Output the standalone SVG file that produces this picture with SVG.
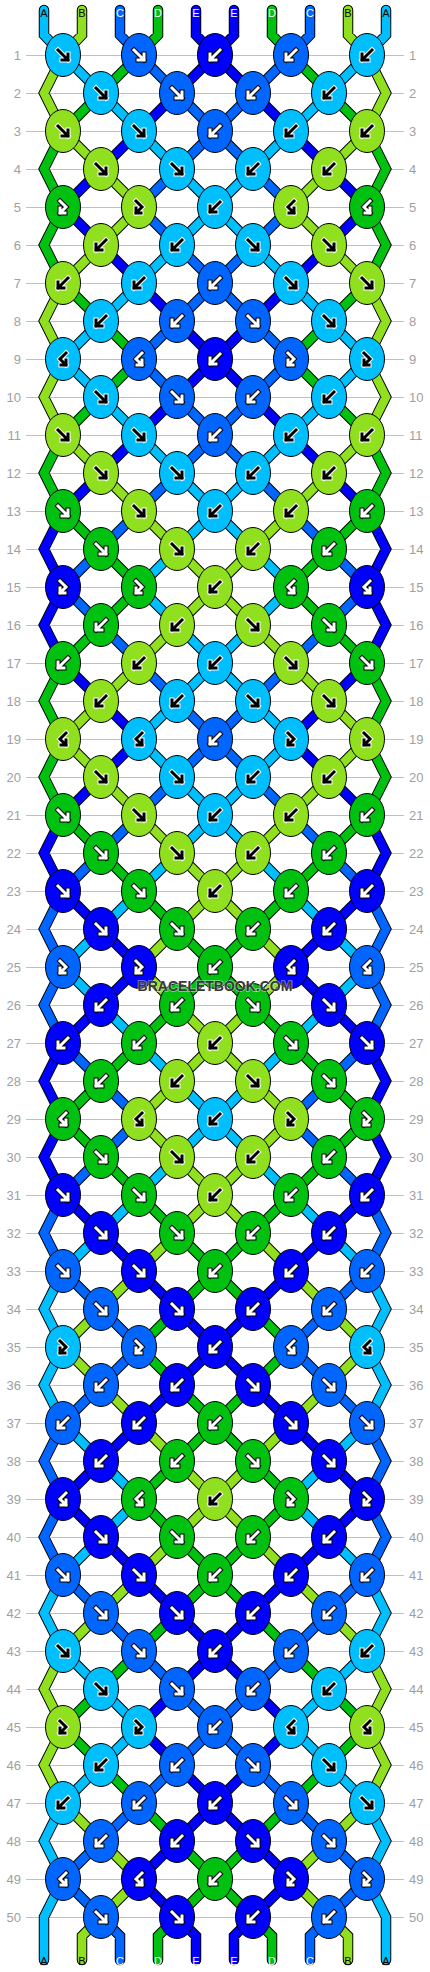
<svg xmlns="http://www.w3.org/2000/svg" xmlns:xlink="http://www.w3.org/1999/xlink" width="430" height="1972" viewBox="0 0 430 1972">
<style>
.A{fill:#00BFFF}.B{fill:#90E020}.C{fill:#0066FF}.D{fill:#00C010}.E{fill:#0000FF}
ellipse{stroke:#000;stroke-width:1}
.wo{stroke:#fff;stroke-width:5}.bi{stroke:#000;stroke-width:3}.ko{stroke:#000;stroke-width:5}.wi{stroke:#fff;stroke-width:3}
.co{stroke:#000;stroke-width:10.5}.cf{stroke-width:8.5}
.sA{stroke:#00BFFF}.sB{stroke:#90E020}.sC{stroke:#0066FF}.sD{stroke:#00C010}.sE{stroke:#0000FF}
.num{font-family:"Liberation Sans",Arial,sans-serif;font-size:13px;fill:#a0a0a0}
.lab{font-family:"Liberation Sans",Arial,sans-serif;font-size:11px;text-anchor:middle}
.lk{fill:#000}.lw{fill:#fff}
</style>
<defs>
<path id="pf" fill="none" stroke-linecap="square" d="M-5-5L5 5M5-1V5H-1"/>
<path id="pb" fill="none" stroke-linecap="square" d="M5-5L-5 5M-5-1V5H1"/>
<path id="pg" fill="none" stroke-linecap="square" d="M-3-6L3 0L-3 6M-3 1V6H2"/>
<path id="ph" fill="none" stroke-linecap="square" d="M3-6L-3 0L3 6M3 1V6H-2"/>
<g id="fL"><use href="#pf" class="wo"/><use href="#pf" class="bi"/></g>
<g id="fD"><use href="#pf" class="ko"/><use href="#pf" class="wi"/></g>
<g id="bL"><use href="#pb" class="wo"/><use href="#pb" class="bi"/></g>
<g id="bD"><use href="#pb" class="ko"/><use href="#pb" class="wi"/></g>
<g id="gL"><use href="#pg" class="wo"/><use href="#pg" class="bi"/></g>
<g id="gD"><use href="#pg" class="ko"/><use href="#pg" class="wi"/></g>
<g id="hL"><use href="#ph" class="wo"/><use href="#ph" class="bi"/></g>
<g id="hD"><use href="#ph" class="ko"/><use href="#ph" class="wi"/></g>
<path id="cA" fill="none" d="M44 10V35L63 55M63 55l38 38M101 93l38 38M139 131l38 38M177 169l38 38M215 207l-38 38M177 245l-38 38M139 283l-38 38M101 321l-38 38M63 359l38 38M101 397l38 38M139 435l38 38M177 473l38 38M215 511l-38 38M177 549l-38 38M139 587l38 38M177 625l38 38M215 663l-38 38M177 701l-38 38M139 739l38 38M177 777l38 38M215 815l-38 38M177 853l-38 38M139 891l-38 38M101 929l-38 38M63 967l38 38M101 1005l38 38M139 1043l38 38M177 1081l38 38M215 1119l-38 38M177 1157l-38 38M139 1195l-38 38M101 1233l-38 38M63 1271l-19 38l19 38M63 1347l-19 38l19 38M63 1423l38 38M101 1461l38 38M139 1499l-38 38M101 1537l-38 38M63 1575l-19 38l19 38M63 1651l38 38M101 1689l38 38M139 1727l-38 38M101 1765l-38 38M63 1803l-19 38l19 38M63 1879L44 1917V1960"/>
<path id="cB" fill="none" d="M82 10V35L63 55M63 55l-19 38l19 38M63 131l38 38M101 169l38 38M139 207l-38 38M101 245l-38 38M63 283l-19 38l19 38M63 359l-19 38l19 38M63 435l38 38M101 473l38 38M139 511l38 38M177 549l38 38M215 587l-38 38M177 625l-38 38M139 663l-38 38M101 701l-38 38M63 739l38 38M101 777l38 38M139 815l38 38M177 853l38 38M215 891l-38 38M177 929l-38 38M139 967l38 38M177 1005l38 38M215 1043l-38 38M177 1081l-38 38M139 1119l38 38M177 1157l38 38M215 1195l-38 38M177 1233l-38 38M139 1271l-38 38M101 1309l-38 38M63 1347l38 38M101 1385l38 38M139 1423l38 38M177 1461l38 38M215 1499l-38 38M177 1537l-38 38M139 1575l-38 38M101 1613l-38 38M63 1651l-19 38l19 38M63 1727l-19 38l19 38M63 1803l38 38M101 1841l38 38M139 1879l-38 38M101 1917L82 1936V1960"/>
<path id="cC" fill="none" d="M120 10V35L139 55M139 55l38 38M177 93l38 38M215 131l-38 38M177 169l-38 38M139 207l38 38M177 245l38 38M215 283l-38 38M177 321l-38 38M139 359l38 38M177 397l38 38M215 435l-38 38M177 473l-38 38M139 511l-38 38M101 549l-38 38M63 587l38 38M101 625l38 38M139 663l38 38M177 701l38 38M215 739l-38 38M177 777l-38 38M139 815l-38 38M101 853l-38 38M63 891l-19 38l19 38M63 967l-19 38l19 38M63 1043l38 38M101 1081l38 38M139 1119l-38 38M101 1157l-38 38M63 1195l-19 38l19 38M63 1271l38 38M101 1309l38 38M139 1347l-38 38M101 1385l-38 38M63 1423l-19 38l19 38M63 1499l-19 38l19 38M63 1575l38 38M101 1613l38 38M139 1651l38 38M177 1689l38 38M215 1727l-38 38M177 1765l-38 38M139 1803l-38 38M101 1841l-38 38M63 1879l38 38M101 1917L120 1936V1960"/>
<path id="cD" fill="none" d="M158 10V35L139 55M139 55l-38 38M101 93l-38 38M63 131l-19 38l19 38M63 207l-19 38l19 38M63 283l38 38M101 321l38 38M139 359l-38 38M101 397l-38 38M63 435l-19 38l19 38M63 511l38 38M101 549l38 38M139 587l-38 38M101 625l-38 38M63 663l-19 38l19 38M63 739l-19 38l19 38M63 815l38 38M101 853l38 38M139 891l38 38M177 929l38 38M215 967l-38 38M177 1005l-38 38M139 1043l-38 38M101 1081l-38 38M63 1119l38 38M101 1157l38 38M139 1195l38 38M177 1233l38 38M215 1271l-38 38M177 1309l-38 38M139 1347l38 38M177 1385l38 38M215 1423l-38 38M177 1461l-38 38M139 1499l38 38M177 1537l38 38M215 1575l-38 38M177 1613l-38 38M139 1651l-38 38M101 1689l-38 38M63 1727l38 38M101 1765l38 38M139 1803l38 38M177 1841l38 38M215 1879l-38 38M177 1917L158 1936V1960"/>
<path id="cE" fill="none" d="M196 10V35L215 55M215 55l-38 38M177 93l-38 38M139 131l-38 38M101 169l-38 38M63 207l38 38M101 245l38 38M139 283l38 38M177 321l38 38M215 359l-38 38M177 397l-38 38M139 435l-38 38M101 473l-38 38M63 511l-19 38l19 38M63 587l-19 38l19 38M63 663l38 38M101 701l38 38M139 739l-38 38M101 777l-38 38M63 815l-19 38l19 38M63 891l38 38M101 929l38 38M139 967l-38 38M101 1005l-38 38M63 1043l-19 38l19 38M63 1119l-19 38l19 38M63 1195l38 38M101 1233l38 38M139 1271l38 38M177 1309l38 38M215 1347l-38 38M177 1385l-38 38M139 1423l-38 38M101 1461l-38 38M63 1499l38 38M101 1537l38 38M139 1575l38 38M177 1613l38 38M215 1651l-38 38M177 1689l-38 38M139 1727l38 38M177 1765l38 38M215 1803l-38 38M177 1841l-38 38M139 1879l38 38M177 1917L196 1936V1960"/>
</defs>
<rect width="430" height="1972" fill="#fff"/>
<g id="gridlines" stroke="#c0c0c0" stroke-width="1" fill="none">
<path d="M26 55.5H404M26 93.5H404M26 131.5H404M26 169.5H404M26 207.5H404M26 245.5H404M26 283.5H404M26 321.5H404M26 359.5H404M26 397.5H404M26 435.5H404M26 473.5H404M26 511.5H404M26 549.5H404M26 587.5H404M26 625.5H404M26 663.5H404M26 701.5H404M26 739.5H404M26 777.5H404M26 815.5H404M26 853.5H404M26 891.5H404M26 929.5H404M26 967.5H404M26 1005.5H404M26 1043.5H404M26 1081.5H404M26 1119.5H404M26 1157.5H404M26 1195.5H404M26 1233.5H404M26 1271.5H404M26 1309.5H404M26 1347.5H404M26 1385.5H404M26 1423.5H404M26 1461.5H404M26 1499.5H404M26 1537.5H404M26 1575.5H404M26 1613.5H404M26 1651.5H404M26 1689.5H404M26 1727.5H404M26 1765.5H404M26 1803.5H404M26 1841.5H404M26 1879.5H404M26 1917.5H404"/>
</g>
<g id="rownumbers" class="num">
<g text-anchor="end">
<text x="21" y="60">1</text><text x="21" y="98">2</text><text x="21" y="136">3</text><text x="21" y="174">4</text><text x="21" y="212">5</text><text x="21" y="250">6</text><text x="21" y="288">7</text><text x="21" y="326">8</text><text x="21" y="364">9</text><text x="21" y="402">10</text>
<text x="21" y="440">11</text><text x="21" y="478">12</text><text x="21" y="516">13</text><text x="21" y="554">14</text><text x="21" y="592">15</text><text x="21" y="630">16</text><text x="21" y="668">17</text><text x="21" y="706">18</text><text x="21" y="744">19</text><text x="21" y="782">20</text>
<text x="21" y="820">21</text><text x="21" y="858">22</text><text x="21" y="896">23</text><text x="21" y="934">24</text><text x="21" y="972">25</text><text x="21" y="1010">26</text><text x="21" y="1048">27</text><text x="21" y="1086">28</text><text x="21" y="1124">29</text><text x="21" y="1162">30</text>
<text x="21" y="1200">31</text><text x="21" y="1238">32</text><text x="21" y="1276">33</text><text x="21" y="1314">34</text><text x="21" y="1352">35</text><text x="21" y="1390">36</text><text x="21" y="1428">37</text><text x="21" y="1466">38</text><text x="21" y="1504">39</text><text x="21" y="1542">40</text>
<text x="21" y="1580">41</text><text x="21" y="1618">42</text><text x="21" y="1656">43</text><text x="21" y="1694">44</text><text x="21" y="1732">45</text><text x="21" y="1770">46</text><text x="21" y="1808">47</text><text x="21" y="1846">48</text><text x="21" y="1884">49</text><text x="21" y="1922">50</text>
</g>
<g text-anchor="start">
<text x="409" y="60">1</text><text x="409" y="98">2</text><text x="409" y="136">3</text><text x="409" y="174">4</text><text x="409" y="212">5</text><text x="409" y="250">6</text><text x="409" y="288">7</text><text x="409" y="326">8</text><text x="409" y="364">9</text><text x="409" y="402">10</text>
<text x="409" y="440">11</text><text x="409" y="478">12</text><text x="409" y="516">13</text><text x="409" y="554">14</text><text x="409" y="592">15</text><text x="409" y="630">16</text><text x="409" y="668">17</text><text x="409" y="706">18</text><text x="409" y="744">19</text><text x="409" y="782">20</text>
<text x="409" y="820">21</text><text x="409" y="858">22</text><text x="409" y="896">23</text><text x="409" y="934">24</text><text x="409" y="972">25</text><text x="409" y="1010">26</text><text x="409" y="1048">27</text><text x="409" y="1086">28</text><text x="409" y="1124">29</text><text x="409" y="1162">30</text>
<text x="409" y="1200">31</text><text x="409" y="1238">32</text><text x="409" y="1276">33</text><text x="409" y="1314">34</text><text x="409" y="1352">35</text><text x="409" y="1390">36</text><text x="409" y="1428">37</text><text x="409" y="1466">38</text><text x="409" y="1504">39</text><text x="409" y="1542">40</text>
<text x="409" y="1580">41</text><text x="409" y="1618">42</text><text x="409" y="1656">43</text><text x="409" y="1694">44</text><text x="409" y="1732">45</text><text x="409" y="1770">46</text><text x="409" y="1808">47</text><text x="409" y="1846">48</text><text x="409" y="1884">49</text><text x="409" y="1922">50</text>
</g>
</g>
<g id="connectors" stroke-linecap="round" stroke-linejoin="miter">
<g id="half">
<g class="co"><use href="#cA"/><use href="#cB"/><use href="#cC"/><use href="#cD"/><use href="#cE"/></g>
<g class="cf"><use href="#cA" class="sA"/><use href="#cB" class="sB"/><use href="#cC" class="sC"/><use href="#cD" class="sD"/><use href="#cE" class="sE"/></g>
</g>
<use href="#half" transform="matrix(-1 0 0 1 430 0)"/>
</g>
<g id="stringlabels" class="lab">
<text class="lk" x="44" y="17">A</text><text class="lk" x="82" y="17">B</text><text class="lw" x="120" y="17">C</text><text class="lw" x="158" y="17">D</text><text class="lw" x="196" y="17">E</text><text class="lw" x="234" y="17">E</text><text class="lw" x="272" y="17">D</text><text class="lw" x="310" y="17">C</text><text class="lk" x="348" y="17">B</text><text class="lk" x="386" y="17">A</text>
<text class="lk" x="44" y="1965">A</text><text class="lk" x="82" y="1965">B</text><text class="lw" x="120" y="1965">C</text><text class="lw" x="158" y="1965">D</text><text class="lw" x="196" y="1965">E</text><text class="lw" x="234" y="1965">E</text><text class="lw" x="272" y="1965">D</text><text class="lw" x="310" y="1965">C</text><text class="lk" x="348" y="1965">B</text><text class="lk" x="386" y="1965">A</text>
</g>
<g id="nodes">
<g id="n1-1" transform="translate(63 55)"><ellipse class="A" rx="17.5" ry="21.5"/><use href="#fL"/></g>
<g id="n1-2" transform="translate(139 55)"><ellipse class="C" rx="17.5" ry="21.5"/><use href="#fD"/></g>
<g id="n1-3" transform="translate(215 55)"><ellipse class="E" rx="17.5" ry="21.5"/><use href="#bD"/></g>
<g id="n1-4" transform="translate(291 55)"><ellipse class="C" rx="17.5" ry="21.5"/><use href="#bD"/></g>
<g id="n1-5" transform="translate(367 55)"><ellipse class="A" rx="17.5" ry="21.5"/><use href="#bL"/></g>
<g id="n2-1" transform="translate(101 93)"><ellipse class="A" rx="17.5" ry="21.5"/><use href="#fL"/></g>
<g id="n2-2" transform="translate(177 93)"><ellipse class="C" rx="17.5" ry="21.5"/><use href="#fD"/></g>
<g id="n2-3" transform="translate(253 93)"><ellipse class="C" rx="17.5" ry="21.5"/><use href="#bD"/></g>
<g id="n2-4" transform="translate(329 93)"><ellipse class="A" rx="17.5" ry="21.5"/><use href="#bL"/></g>
<g id="n3-1" transform="translate(63 131)"><ellipse class="B" rx="17.5" ry="21.5"/><use href="#fL"/></g>
<g id="n3-2" transform="translate(139 131)"><ellipse class="A" rx="17.5" ry="21.5"/><use href="#fL"/></g>
<g id="n3-3" transform="translate(215 131)"><ellipse class="C" rx="17.5" ry="21.5"/><use href="#bD"/></g>
<g id="n3-4" transform="translate(291 131)"><ellipse class="A" rx="17.5" ry="21.5"/><use href="#bL"/></g>
<g id="n3-5" transform="translate(367 131)"><ellipse class="B" rx="17.5" ry="21.5"/><use href="#bL"/></g>
<g id="n4-1" transform="translate(101 169)"><ellipse class="B" rx="17.5" ry="21.5"/><use href="#fL"/></g>
<g id="n4-2" transform="translate(177 169)"><ellipse class="A" rx="17.5" ry="21.5"/><use href="#fL"/></g>
<g id="n4-3" transform="translate(253 169)"><ellipse class="A" rx="17.5" ry="21.5"/><use href="#bL"/></g>
<g id="n4-4" transform="translate(329 169)"><ellipse class="B" rx="17.5" ry="21.5"/><use href="#bL"/></g>
<g id="n5-1" transform="translate(63 207)"><ellipse class="D" rx="17.5" ry="21.5"/><use href="#gD"/></g>
<g id="n5-2" transform="translate(139 207)"><ellipse class="B" rx="17.5" ry="21.5"/><use href="#gL"/></g>
<g id="n5-3" transform="translate(215 207)"><ellipse class="A" rx="17.5" ry="21.5"/><use href="#bL"/></g>
<g id="n5-4" transform="translate(291 207)"><ellipse class="B" rx="17.5" ry="21.5"/><use href="#hL"/></g>
<g id="n5-5" transform="translate(367 207)"><ellipse class="D" rx="17.5" ry="21.5"/><use href="#hD"/></g>
<g id="n6-1" transform="translate(101 245)"><ellipse class="B" rx="17.5" ry="21.5"/><use href="#bL"/></g>
<g id="n6-2" transform="translate(177 245)"><ellipse class="A" rx="17.5" ry="21.5"/><use href="#bL"/></g>
<g id="n6-3" transform="translate(253 245)"><ellipse class="A" rx="17.5" ry="21.5"/><use href="#fL"/></g>
<g id="n6-4" transform="translate(329 245)"><ellipse class="B" rx="17.5" ry="21.5"/><use href="#fL"/></g>
<g id="n7-1" transform="translate(63 283)"><ellipse class="B" rx="17.5" ry="21.5"/><use href="#bL"/></g>
<g id="n7-2" transform="translate(139 283)"><ellipse class="A" rx="17.5" ry="21.5"/><use href="#bL"/></g>
<g id="n7-3" transform="translate(215 283)"><ellipse class="C" rx="17.5" ry="21.5"/><use href="#bD"/></g>
<g id="n7-4" transform="translate(291 283)"><ellipse class="A" rx="17.5" ry="21.5"/><use href="#fL"/></g>
<g id="n7-5" transform="translate(367 283)"><ellipse class="B" rx="17.5" ry="21.5"/><use href="#fL"/></g>
<g id="n8-1" transform="translate(101 321)"><ellipse class="A" rx="17.5" ry="21.5"/><use href="#bL"/></g>
<g id="n8-2" transform="translate(177 321)"><ellipse class="C" rx="17.5" ry="21.5"/><use href="#bD"/></g>
<g id="n8-3" transform="translate(253 321)"><ellipse class="C" rx="17.5" ry="21.5"/><use href="#fD"/></g>
<g id="n8-4" transform="translate(329 321)"><ellipse class="A" rx="17.5" ry="21.5"/><use href="#fL"/></g>
<g id="n9-1" transform="translate(63 359)"><ellipse class="A" rx="17.5" ry="21.5"/><use href="#hL"/></g>
<g id="n9-2" transform="translate(139 359)"><ellipse class="C" rx="17.5" ry="21.5"/><use href="#hD"/></g>
<g id="n9-3" transform="translate(215 359)"><ellipse class="E" rx="17.5" ry="21.5"/><use href="#bD"/></g>
<g id="n9-4" transform="translate(291 359)"><ellipse class="C" rx="17.5" ry="21.5"/><use href="#gD"/></g>
<g id="n9-5" transform="translate(367 359)"><ellipse class="A" rx="17.5" ry="21.5"/><use href="#gL"/></g>
<g id="n10-1" transform="translate(101 397)"><ellipse class="A" rx="17.5" ry="21.5"/><use href="#fL"/></g>
<g id="n10-2" transform="translate(177 397)"><ellipse class="C" rx="17.5" ry="21.5"/><use href="#fD"/></g>
<g id="n10-3" transform="translate(253 397)"><ellipse class="C" rx="17.5" ry="21.5"/><use href="#bD"/></g>
<g id="n10-4" transform="translate(329 397)"><ellipse class="A" rx="17.5" ry="21.5"/><use href="#bL"/></g>
<g id="n11-1" transform="translate(63 435)"><ellipse class="B" rx="17.5" ry="21.5"/><use href="#fL"/></g>
<g id="n11-2" transform="translate(139 435)"><ellipse class="A" rx="17.5" ry="21.5"/><use href="#fL"/></g>
<g id="n11-3" transform="translate(215 435)"><ellipse class="C" rx="17.5" ry="21.5"/><use href="#bD"/></g>
<g id="n11-4" transform="translate(291 435)"><ellipse class="A" rx="17.5" ry="21.5"/><use href="#bL"/></g>
<g id="n11-5" transform="translate(367 435)"><ellipse class="B" rx="17.5" ry="21.5"/><use href="#bL"/></g>
<g id="n12-1" transform="translate(101 473)"><ellipse class="B" rx="17.5" ry="21.5"/><use href="#fL"/></g>
<g id="n12-2" transform="translate(177 473)"><ellipse class="A" rx="17.5" ry="21.5"/><use href="#fL"/></g>
<g id="n12-3" transform="translate(253 473)"><ellipse class="A" rx="17.5" ry="21.5"/><use href="#bL"/></g>
<g id="n12-4" transform="translate(329 473)"><ellipse class="B" rx="17.5" ry="21.5"/><use href="#bL"/></g>
<g id="n13-1" transform="translate(63 511)"><ellipse class="D" rx="17.5" ry="21.5"/><use href="#fD"/></g>
<g id="n13-2" transform="translate(139 511)"><ellipse class="B" rx="17.5" ry="21.5"/><use href="#fL"/></g>
<g id="n13-3" transform="translate(215 511)"><ellipse class="A" rx="17.5" ry="21.5"/><use href="#bL"/></g>
<g id="n13-4" transform="translate(291 511)"><ellipse class="B" rx="17.5" ry="21.5"/><use href="#bL"/></g>
<g id="n13-5" transform="translate(367 511)"><ellipse class="D" rx="17.5" ry="21.5"/><use href="#bD"/></g>
<g id="n14-1" transform="translate(101 549)"><ellipse class="D" rx="17.5" ry="21.5"/><use href="#fD"/></g>
<g id="n14-2" transform="translate(177 549)"><ellipse class="B" rx="17.5" ry="21.5"/><use href="#fL"/></g>
<g id="n14-3" transform="translate(253 549)"><ellipse class="B" rx="17.5" ry="21.5"/><use href="#bL"/></g>
<g id="n14-4" transform="translate(329 549)"><ellipse class="D" rx="17.5" ry="21.5"/><use href="#bD"/></g>
<g id="n15-1" transform="translate(63 587)"><ellipse class="E" rx="17.5" ry="21.5"/><use href="#gD"/></g>
<g id="n15-2" transform="translate(139 587)"><ellipse class="D" rx="17.5" ry="21.5"/><use href="#gD"/></g>
<g id="n15-3" transform="translate(215 587)"><ellipse class="B" rx="17.5" ry="21.5"/><use href="#bL"/></g>
<g id="n15-4" transform="translate(291 587)"><ellipse class="D" rx="17.5" ry="21.5"/><use href="#hD"/></g>
<g id="n15-5" transform="translate(367 587)"><ellipse class="E" rx="17.5" ry="21.5"/><use href="#hD"/></g>
<g id="n16-1" transform="translate(101 625)"><ellipse class="D" rx="17.5" ry="21.5"/><use href="#bD"/></g>
<g id="n16-2" transform="translate(177 625)"><ellipse class="B" rx="17.5" ry="21.5"/><use href="#bL"/></g>
<g id="n16-3" transform="translate(253 625)"><ellipse class="B" rx="17.5" ry="21.5"/><use href="#fL"/></g>
<g id="n16-4" transform="translate(329 625)"><ellipse class="D" rx="17.5" ry="21.5"/><use href="#fD"/></g>
<g id="n17-1" transform="translate(63 663)"><ellipse class="D" rx="17.5" ry="21.5"/><use href="#bD"/></g>
<g id="n17-2" transform="translate(139 663)"><ellipse class="B" rx="17.5" ry="21.5"/><use href="#bL"/></g>
<g id="n17-3" transform="translate(215 663)"><ellipse class="A" rx="17.5" ry="21.5"/><use href="#bL"/></g>
<g id="n17-4" transform="translate(291 663)"><ellipse class="B" rx="17.5" ry="21.5"/><use href="#fL"/></g>
<g id="n17-5" transform="translate(367 663)"><ellipse class="D" rx="17.5" ry="21.5"/><use href="#fD"/></g>
<g id="n18-1" transform="translate(101 701)"><ellipse class="B" rx="17.5" ry="21.5"/><use href="#bL"/></g>
<g id="n18-2" transform="translate(177 701)"><ellipse class="A" rx="17.5" ry="21.5"/><use href="#bL"/></g>
<g id="n18-3" transform="translate(253 701)"><ellipse class="A" rx="17.5" ry="21.5"/><use href="#fL"/></g>
<g id="n18-4" transform="translate(329 701)"><ellipse class="B" rx="17.5" ry="21.5"/><use href="#fL"/></g>
<g id="n19-1" transform="translate(63 739)"><ellipse class="B" rx="17.5" ry="21.5"/><use href="#hL"/></g>
<g id="n19-2" transform="translate(139 739)"><ellipse class="A" rx="17.5" ry="21.5"/><use href="#hL"/></g>
<g id="n19-3" transform="translate(215 739)"><ellipse class="C" rx="17.5" ry="21.5"/><use href="#bD"/></g>
<g id="n19-4" transform="translate(291 739)"><ellipse class="A" rx="17.5" ry="21.5"/><use href="#gL"/></g>
<g id="n19-5" transform="translate(367 739)"><ellipse class="B" rx="17.5" ry="21.5"/><use href="#gL"/></g>
<g id="n20-1" transform="translate(101 777)"><ellipse class="B" rx="17.5" ry="21.5"/><use href="#fL"/></g>
<g id="n20-2" transform="translate(177 777)"><ellipse class="A" rx="17.5" ry="21.5"/><use href="#fL"/></g>
<g id="n20-3" transform="translate(253 777)"><ellipse class="A" rx="17.5" ry="21.5"/><use href="#bL"/></g>
<g id="n20-4" transform="translate(329 777)"><ellipse class="B" rx="17.5" ry="21.5"/><use href="#bL"/></g>
<g id="n21-1" transform="translate(63 815)"><ellipse class="D" rx="17.5" ry="21.5"/><use href="#fD"/></g>
<g id="n21-2" transform="translate(139 815)"><ellipse class="B" rx="17.5" ry="21.5"/><use href="#fL"/></g>
<g id="n21-3" transform="translate(215 815)"><ellipse class="A" rx="17.5" ry="21.5"/><use href="#bL"/></g>
<g id="n21-4" transform="translate(291 815)"><ellipse class="B" rx="17.5" ry="21.5"/><use href="#bL"/></g>
<g id="n21-5" transform="translate(367 815)"><ellipse class="D" rx="17.5" ry="21.5"/><use href="#bD"/></g>
<g id="n22-1" transform="translate(101 853)"><ellipse class="D" rx="17.5" ry="21.5"/><use href="#fD"/></g>
<g id="n22-2" transform="translate(177 853)"><ellipse class="B" rx="17.5" ry="21.5"/><use href="#fL"/></g>
<g id="n22-3" transform="translate(253 853)"><ellipse class="B" rx="17.5" ry="21.5"/><use href="#bL"/></g>
<g id="n22-4" transform="translate(329 853)"><ellipse class="D" rx="17.5" ry="21.5"/><use href="#bD"/></g>
<g id="n23-1" transform="translate(63 891)"><ellipse class="E" rx="17.5" ry="21.5"/><use href="#fD"/></g>
<g id="n23-2" transform="translate(139 891)"><ellipse class="D" rx="17.5" ry="21.5"/><use href="#fD"/></g>
<g id="n23-3" transform="translate(215 891)"><ellipse class="B" rx="17.5" ry="21.5"/><use href="#bL"/></g>
<g id="n23-4" transform="translate(291 891)"><ellipse class="D" rx="17.5" ry="21.5"/><use href="#bD"/></g>
<g id="n23-5" transform="translate(367 891)"><ellipse class="E" rx="17.5" ry="21.5"/><use href="#bD"/></g>
<g id="n24-1" transform="translate(101 929)"><ellipse class="E" rx="17.5" ry="21.5"/><use href="#fD"/></g>
<g id="n24-2" transform="translate(177 929)"><ellipse class="D" rx="17.5" ry="21.5"/><use href="#fD"/></g>
<g id="n24-3" transform="translate(253 929)"><ellipse class="D" rx="17.5" ry="21.5"/><use href="#bD"/></g>
<g id="n24-4" transform="translate(329 929)"><ellipse class="E" rx="17.5" ry="21.5"/><use href="#bD"/></g>
<g id="n25-1" transform="translate(63 967)"><ellipse class="C" rx="17.5" ry="21.5"/><use href="#gD"/></g>
<g id="n25-2" transform="translate(139 967)"><ellipse class="E" rx="17.5" ry="21.5"/><use href="#gD"/></g>
<g id="n25-3" transform="translate(215 967)"><ellipse class="D" rx="17.5" ry="21.5"/><use href="#bD"/></g>
<g id="n25-4" transform="translate(291 967)"><ellipse class="E" rx="17.5" ry="21.5"/><use href="#hD"/></g>
<g id="n25-5" transform="translate(367 967)"><ellipse class="C" rx="17.5" ry="21.5"/><use href="#hD"/></g>
<g id="n26-1" transform="translate(101 1005)"><ellipse class="E" rx="17.5" ry="21.5"/><use href="#bD"/></g>
<g id="n26-2" transform="translate(177 1005)"><ellipse class="D" rx="17.5" ry="21.5"/><use href="#bD"/></g>
<g id="n26-3" transform="translate(253 1005)"><ellipse class="D" rx="17.5" ry="21.5"/><use href="#fD"/></g>
<g id="n26-4" transform="translate(329 1005)"><ellipse class="E" rx="17.5" ry="21.5"/><use href="#fD"/></g>
<g id="n27-1" transform="translate(63 1043)"><ellipse class="E" rx="17.5" ry="21.5"/><use href="#bD"/></g>
<g id="n27-2" transform="translate(139 1043)"><ellipse class="D" rx="17.5" ry="21.5"/><use href="#bD"/></g>
<g id="n27-3" transform="translate(215 1043)"><ellipse class="B" rx="17.5" ry="21.5"/><use href="#bL"/></g>
<g id="n27-4" transform="translate(291 1043)"><ellipse class="D" rx="17.5" ry="21.5"/><use href="#fD"/></g>
<g id="n27-5" transform="translate(367 1043)"><ellipse class="E" rx="17.5" ry="21.5"/><use href="#fD"/></g>
<g id="n28-1" transform="translate(101 1081)"><ellipse class="D" rx="17.5" ry="21.5"/><use href="#bD"/></g>
<g id="n28-2" transform="translate(177 1081)"><ellipse class="B" rx="17.5" ry="21.5"/><use href="#bL"/></g>
<g id="n28-3" transform="translate(253 1081)"><ellipse class="B" rx="17.5" ry="21.5"/><use href="#fL"/></g>
<g id="n28-4" transform="translate(329 1081)"><ellipse class="D" rx="17.5" ry="21.5"/><use href="#fD"/></g>
<g id="n29-1" transform="translate(63 1119)"><ellipse class="D" rx="17.5" ry="21.5"/><use href="#hD"/></g>
<g id="n29-2" transform="translate(139 1119)"><ellipse class="B" rx="17.5" ry="21.5"/><use href="#hL"/></g>
<g id="n29-3" transform="translate(215 1119)"><ellipse class="A" rx="17.5" ry="21.5"/><use href="#bL"/></g>
<g id="n29-4" transform="translate(291 1119)"><ellipse class="B" rx="17.5" ry="21.5"/><use href="#gL"/></g>
<g id="n29-5" transform="translate(367 1119)"><ellipse class="D" rx="17.5" ry="21.5"/><use href="#gD"/></g>
<g id="n30-1" transform="translate(101 1157)"><ellipse class="D" rx="17.5" ry="21.5"/><use href="#fD"/></g>
<g id="n30-2" transform="translate(177 1157)"><ellipse class="B" rx="17.5" ry="21.5"/><use href="#fL"/></g>
<g id="n30-3" transform="translate(253 1157)"><ellipse class="B" rx="17.5" ry="21.5"/><use href="#bL"/></g>
<g id="n30-4" transform="translate(329 1157)"><ellipse class="D" rx="17.5" ry="21.5"/><use href="#bD"/></g>
<g id="n31-1" transform="translate(63 1195)"><ellipse class="E" rx="17.5" ry="21.5"/><use href="#fD"/></g>
<g id="n31-2" transform="translate(139 1195)"><ellipse class="D" rx="17.5" ry="21.5"/><use href="#fD"/></g>
<g id="n31-3" transform="translate(215 1195)"><ellipse class="B" rx="17.5" ry="21.5"/><use href="#bL"/></g>
<g id="n31-4" transform="translate(291 1195)"><ellipse class="D" rx="17.5" ry="21.5"/><use href="#bD"/></g>
<g id="n31-5" transform="translate(367 1195)"><ellipse class="E" rx="17.5" ry="21.5"/><use href="#bD"/></g>
<g id="n32-1" transform="translate(101 1233)"><ellipse class="E" rx="17.5" ry="21.5"/><use href="#fD"/></g>
<g id="n32-2" transform="translate(177 1233)"><ellipse class="D" rx="17.5" ry="21.5"/><use href="#fD"/></g>
<g id="n32-3" transform="translate(253 1233)"><ellipse class="D" rx="17.5" ry="21.5"/><use href="#bD"/></g>
<g id="n32-4" transform="translate(329 1233)"><ellipse class="E" rx="17.5" ry="21.5"/><use href="#bD"/></g>
<g id="n33-1" transform="translate(63 1271)"><ellipse class="C" rx="17.5" ry="21.5"/><use href="#fD"/></g>
<g id="n33-2" transform="translate(139 1271)"><ellipse class="E" rx="17.5" ry="21.5"/><use href="#fD"/></g>
<g id="n33-3" transform="translate(215 1271)"><ellipse class="D" rx="17.5" ry="21.5"/><use href="#bD"/></g>
<g id="n33-4" transform="translate(291 1271)"><ellipse class="E" rx="17.5" ry="21.5"/><use href="#bD"/></g>
<g id="n33-5" transform="translate(367 1271)"><ellipse class="C" rx="17.5" ry="21.5"/><use href="#bD"/></g>
<g id="n34-1" transform="translate(101 1309)"><ellipse class="C" rx="17.5" ry="21.5"/><use href="#fD"/></g>
<g id="n34-2" transform="translate(177 1309)"><ellipse class="E" rx="17.5" ry="21.5"/><use href="#fD"/></g>
<g id="n34-3" transform="translate(253 1309)"><ellipse class="E" rx="17.5" ry="21.5"/><use href="#bD"/></g>
<g id="n34-4" transform="translate(329 1309)"><ellipse class="C" rx="17.5" ry="21.5"/><use href="#bD"/></g>
<g id="n35-1" transform="translate(63 1347)"><ellipse class="A" rx="17.5" ry="21.5"/><use href="#gL"/></g>
<g id="n35-2" transform="translate(139 1347)"><ellipse class="C" rx="17.5" ry="21.5"/><use href="#gD"/></g>
<g id="n35-3" transform="translate(215 1347)"><ellipse class="E" rx="17.5" ry="21.5"/><use href="#bD"/></g>
<g id="n35-4" transform="translate(291 1347)"><ellipse class="C" rx="17.5" ry="21.5"/><use href="#hD"/></g>
<g id="n35-5" transform="translate(367 1347)"><ellipse class="A" rx="17.5" ry="21.5"/><use href="#hL"/></g>
<g id="n36-1" transform="translate(101 1385)"><ellipse class="C" rx="17.5" ry="21.5"/><use href="#bD"/></g>
<g id="n36-2" transform="translate(177 1385)"><ellipse class="E" rx="17.5" ry="21.5"/><use href="#bD"/></g>
<g id="n36-3" transform="translate(253 1385)"><ellipse class="E" rx="17.5" ry="21.5"/><use href="#fD"/></g>
<g id="n36-4" transform="translate(329 1385)"><ellipse class="C" rx="17.5" ry="21.5"/><use href="#fD"/></g>
<g id="n37-1" transform="translate(63 1423)"><ellipse class="C" rx="17.5" ry="21.5"/><use href="#bD"/></g>
<g id="n37-2" transform="translate(139 1423)"><ellipse class="E" rx="17.5" ry="21.5"/><use href="#bD"/></g>
<g id="n37-3" transform="translate(215 1423)"><ellipse class="D" rx="17.5" ry="21.5"/><use href="#bD"/></g>
<g id="n37-4" transform="translate(291 1423)"><ellipse class="E" rx="17.5" ry="21.5"/><use href="#fD"/></g>
<g id="n37-5" transform="translate(367 1423)"><ellipse class="C" rx="17.5" ry="21.5"/><use href="#fD"/></g>
<g id="n38-1" transform="translate(101 1461)"><ellipse class="E" rx="17.5" ry="21.5"/><use href="#bD"/></g>
<g id="n38-2" transform="translate(177 1461)"><ellipse class="D" rx="17.5" ry="21.5"/><use href="#bD"/></g>
<g id="n38-3" transform="translate(253 1461)"><ellipse class="D" rx="17.5" ry="21.5"/><use href="#fD"/></g>
<g id="n38-4" transform="translate(329 1461)"><ellipse class="E" rx="17.5" ry="21.5"/><use href="#fD"/></g>
<g id="n39-1" transform="translate(63 1499)"><ellipse class="E" rx="17.5" ry="21.5"/><use href="#hD"/></g>
<g id="n39-2" transform="translate(139 1499)"><ellipse class="D" rx="17.5" ry="21.5"/><use href="#hD"/></g>
<g id="n39-3" transform="translate(215 1499)"><ellipse class="B" rx="17.5" ry="21.5"/><use href="#bL"/></g>
<g id="n39-4" transform="translate(291 1499)"><ellipse class="D" rx="17.5" ry="21.5"/><use href="#gD"/></g>
<g id="n39-5" transform="translate(367 1499)"><ellipse class="E" rx="17.5" ry="21.5"/><use href="#gD"/></g>
<g id="n40-1" transform="translate(101 1537)"><ellipse class="E" rx="17.5" ry="21.5"/><use href="#fD"/></g>
<g id="n40-2" transform="translate(177 1537)"><ellipse class="D" rx="17.5" ry="21.5"/><use href="#fD"/></g>
<g id="n40-3" transform="translate(253 1537)"><ellipse class="D" rx="17.5" ry="21.5"/><use href="#bD"/></g>
<g id="n40-4" transform="translate(329 1537)"><ellipse class="E" rx="17.5" ry="21.5"/><use href="#bD"/></g>
<g id="n41-1" transform="translate(63 1575)"><ellipse class="C" rx="17.5" ry="21.5"/><use href="#fD"/></g>
<g id="n41-2" transform="translate(139 1575)"><ellipse class="E" rx="17.5" ry="21.5"/><use href="#fD"/></g>
<g id="n41-3" transform="translate(215 1575)"><ellipse class="D" rx="17.5" ry="21.5"/><use href="#bD"/></g>
<g id="n41-4" transform="translate(291 1575)"><ellipse class="E" rx="17.5" ry="21.5"/><use href="#bD"/></g>
<g id="n41-5" transform="translate(367 1575)"><ellipse class="C" rx="17.5" ry="21.5"/><use href="#bD"/></g>
<g id="n42-1" transform="translate(101 1613)"><ellipse class="C" rx="17.5" ry="21.5"/><use href="#fD"/></g>
<g id="n42-2" transform="translate(177 1613)"><ellipse class="E" rx="17.5" ry="21.5"/><use href="#fD"/></g>
<g id="n42-3" transform="translate(253 1613)"><ellipse class="E" rx="17.5" ry="21.5"/><use href="#bD"/></g>
<g id="n42-4" transform="translate(329 1613)"><ellipse class="C" rx="17.5" ry="21.5"/><use href="#bD"/></g>
<g id="n43-1" transform="translate(63 1651)"><ellipse class="A" rx="17.5" ry="21.5"/><use href="#fL"/></g>
<g id="n43-2" transform="translate(139 1651)"><ellipse class="C" rx="17.5" ry="21.5"/><use href="#fD"/></g>
<g id="n43-3" transform="translate(215 1651)"><ellipse class="E" rx="17.5" ry="21.5"/><use href="#bD"/></g>
<g id="n43-4" transform="translate(291 1651)"><ellipse class="C" rx="17.5" ry="21.5"/><use href="#bD"/></g>
<g id="n43-5" transform="translate(367 1651)"><ellipse class="A" rx="17.5" ry="21.5"/><use href="#bL"/></g>
<g id="n44-1" transform="translate(101 1689)"><ellipse class="A" rx="17.5" ry="21.5"/><use href="#fL"/></g>
<g id="n44-2" transform="translate(177 1689)"><ellipse class="C" rx="17.5" ry="21.5"/><use href="#fD"/></g>
<g id="n44-3" transform="translate(253 1689)"><ellipse class="C" rx="17.5" ry="21.5"/><use href="#bD"/></g>
<g id="n44-4" transform="translate(329 1689)"><ellipse class="A" rx="17.5" ry="21.5"/><use href="#bL"/></g>
<g id="n45-1" transform="translate(63 1727)"><ellipse class="B" rx="17.5" ry="21.5"/><use href="#gL"/></g>
<g id="n45-2" transform="translate(139 1727)"><ellipse class="A" rx="17.5" ry="21.5"/><use href="#gL"/></g>
<g id="n45-3" transform="translate(215 1727)"><ellipse class="C" rx="17.5" ry="21.5"/><use href="#bD"/></g>
<g id="n45-4" transform="translate(291 1727)"><ellipse class="A" rx="17.5" ry="21.5"/><use href="#hL"/></g>
<g id="n45-5" transform="translate(367 1727)"><ellipse class="B" rx="17.5" ry="21.5"/><use href="#hL"/></g>
<g id="n46-1" transform="translate(101 1765)"><ellipse class="A" rx="17.5" ry="21.5"/><use href="#bL"/></g>
<g id="n46-2" transform="translate(177 1765)"><ellipse class="C" rx="17.5" ry="21.5"/><use href="#bD"/></g>
<g id="n46-3" transform="translate(253 1765)"><ellipse class="C" rx="17.5" ry="21.5"/><use href="#fD"/></g>
<g id="n46-4" transform="translate(329 1765)"><ellipse class="A" rx="17.5" ry="21.5"/><use href="#fL"/></g>
<g id="n47-1" transform="translate(63 1803)"><ellipse class="A" rx="17.5" ry="21.5"/><use href="#bL"/></g>
<g id="n47-2" transform="translate(139 1803)"><ellipse class="C" rx="17.5" ry="21.5"/><use href="#bD"/></g>
<g id="n47-3" transform="translate(215 1803)"><ellipse class="E" rx="17.5" ry="21.5"/><use href="#bD"/></g>
<g id="n47-4" transform="translate(291 1803)"><ellipse class="C" rx="17.5" ry="21.5"/><use href="#fD"/></g>
<g id="n47-5" transform="translate(367 1803)"><ellipse class="A" rx="17.5" ry="21.5"/><use href="#fL"/></g>
<g id="n48-1" transform="translate(101 1841)"><ellipse class="C" rx="17.5" ry="21.5"/><use href="#bD"/></g>
<g id="n48-2" transform="translate(177 1841)"><ellipse class="E" rx="17.5" ry="21.5"/><use href="#bD"/></g>
<g id="n48-3" transform="translate(253 1841)"><ellipse class="E" rx="17.5" ry="21.5"/><use href="#fD"/></g>
<g id="n48-4" transform="translate(329 1841)"><ellipse class="C" rx="17.5" ry="21.5"/><use href="#fD"/></g>
<g id="n49-1" transform="translate(63 1879)"><ellipse class="C" rx="17.5" ry="21.5"/><use href="#hD"/></g>
<g id="n49-2" transform="translate(139 1879)"><ellipse class="E" rx="17.5" ry="21.5"/><use href="#hD"/></g>
<g id="n49-3" transform="translate(215 1879)"><ellipse class="D" rx="17.5" ry="21.5"/><use href="#bD"/></g>
<g id="n49-4" transform="translate(291 1879)"><ellipse class="E" rx="17.5" ry="21.5"/><use href="#gD"/></g>
<g id="n49-5" transform="translate(367 1879)"><ellipse class="C" rx="17.5" ry="21.5"/><use href="#gD"/></g>
<g id="n50-1" transform="translate(101 1917)"><ellipse class="C" rx="17.5" ry="21.5"/><use href="#fD"/></g>
<g id="n50-2" transform="translate(177 1917)"><ellipse class="E" rx="17.5" ry="21.5"/><use href="#fD"/></g>
<g id="n50-3" transform="translate(253 1917)"><ellipse class="E" rx="17.5" ry="21.5"/><use href="#bD"/></g>
<g id="n50-4" transform="translate(329 1917)"><ellipse class="C" rx="17.5" ry="21.5"/><use href="#bD"/></g>
</g>
<text id="watermark" x="215" y="991" text-anchor="middle" font-family="'Liberation Sans',Arial,sans-serif" font-weight="bold" font-size="14" fill="#383838" stroke="#fff" stroke-opacity="0.5" stroke-width="1.5" paint-order="stroke">BRACELETBOOK.COM</text>
</svg>
